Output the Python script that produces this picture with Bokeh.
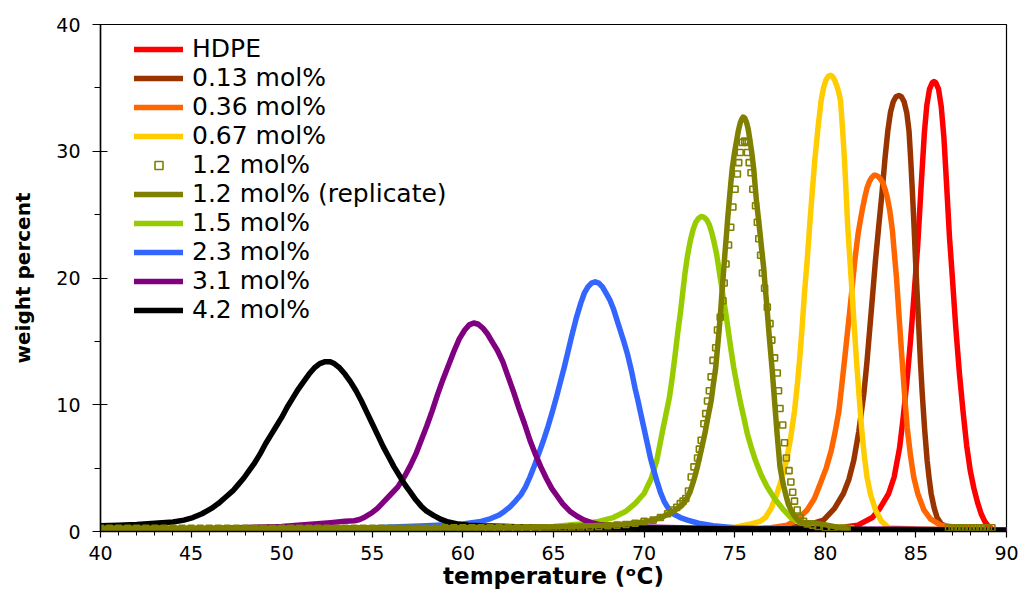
from bokeh.plotting import figure
from bokeh.models import Range1d, SingleIntervalTicker, Legend, LegendItem
from bokeh.embed import file_html
from bokeh.resources import INLINE

# ---------------- data ----------------
hdpe_t = [40, 60, 75, 80, 81.8, 82.6, 83.0, 83.5, 83.8, 84.1, 84.3, 84.5, 84.7, 84.9, 85.1, 85.3, 85.47,
          85.6, 85.75, 85.9, 86.0, 86.1, 86.25, 86.4, 86.55, 86.7, 86.85, 87.0, 87.2, 87.4, 87.6, 87.8,
          88.0, 88.2, 88.4, 88.6, 88.8, 89.0, 89.2]
hdpe_y = [0.0, 0.05, 0.1, 0.15, 0.5, 1.1, 1.8, 3.0, 4.3, 6.6, 9.0, 11.8, 15.0, 18.7, 22.6, 27.5, 31.5,
          33.6, 34.9, 35.4, 35.5, 35.4, 34.9, 33.5, 31.0, 27.2, 23.3, 20.3, 16.1, 12.5, 9.5, 6.8,
          4.8, 3.4, 2.3, 1.4, 0.8, 0.4, 0.2]

m013_t = [40, 60, 75, 78.0, 79.0, 79.9, 80.5, 81.0, 81.3, 81.57, 81.85, 82.13, 82.3, 82.46, 82.62, 82.77,
          82.95, 83.13, 83.3, 83.45, 83.6, 83.75, 83.9, 84.06, 84.2, 84.35, 84.5, 84.62, 84.72, 84.8,
          84.9, 84.98, 85.07, 85.16, 85.25, 85.35, 85.48, 85.62, 85.73, 85.84, 86.0, 86.17, 86.4, 86.7,
          88, 90]
m013_y = [0.0, 0.05, 0.1, 0.3, 0.5, 0.9, 1.8, 3.0, 4.1, 5.6, 7.9, 10.9, 13.4, 16.1, 18.8, 21.4,
          24.1, 26.7, 29.5, 31.6, 33.1, 33.9, 34.3, 34.4, 34.3, 33.9, 33.0, 31.6, 29.2, 27.0,
          24.0, 21.4, 18.7, 16.1, 13.4, 10.9, 8.1, 5.6, 4.2, 3.0, 1.9, 1.1, 0.6, 0.4,
          0.2, 0.1]

m036_t = [40, 60, 72, 76, 77.0, 77.9, 78.5, 79.0, 79.4, 79.73, 80.05, 80.33, 80.55, 80.75, 80.9, 81.06,
          81.2, 81.35, 81.5, 81.63, 81.82, 82.03, 82.17, 82.3, 82.43, 82.55, 82.68, 82.8, 82.93, 83.05,
          83.18, 83.3, 83.43, 83.56, 83.7, 83.82, 83.93, 84.08, 84.24, 84.38, 84.52, 84.7, 84.88, 85.1,
          85.44, 85.8, 86.36, 88, 90]
m036_y = [0.0, 0.05, 0.1, 0.2, 0.3, 0.5, 1.0, 1.7, 2.6, 3.8, 5.0, 6.4, 7.9, 9.5, 11.4, 13.5,
          15.4, 17.4, 19.5, 21.4, 23.6, 25.3, 26.3, 27.1, 27.6, 27.9, 28.1, 28.1, 28.0, 27.8,
          27.5, 27.0, 26.3, 25.3, 23.8, 21.8, 20.0, 16.8, 13.5, 10.7, 8.2, 6.0, 4.3, 3.0,
          1.7, 1.0, 0.5, 0.2, 0.1]

m067_t = [40, 60, 72, 74.9, 75.9, 76.4, 76.7, 77.0, 77.34, 77.6, 77.86, 78.1, 78.3, 78.45, 78.58, 78.72,
          78.85, 79.0, 79.13, 79.28, 79.42, 79.6, 79.77, 79.9, 80.03, 80.16, 80.29, 80.4, 80.52, 80.65,
          80.75, 80.84, 80.95, 81.06, 81.15, 81.24, 81.36, 81.48, 81.6, 81.72, 81.86, 82.0, 82.15, 82.3,
          82.5, 82.77, 83.1, 83.5, 85, 90]
m067_y = [0.0, 0.05, 0.1, 0.3, 0.6, 0.8, 1.1, 1.8, 3.0, 4.2, 5.6, 7.5, 9.5, 11.5, 13.5, 16.1,
          18.8, 21.4, 24.0, 26.8, 29.3, 31.9, 34.0, 35.0, 35.6, 35.9, 36.0, 35.9, 35.6, 35.1,
          34.6, 34.0, 31.8, 29.3, 26.7, 24.0, 21.4, 18.8, 16.1, 13.5, 10.8, 8.2, 6.0, 4.3,
          2.9, 1.7, 0.8, 0.3, 0.2, 0.1]

# 1.2 mol% (open square markers)
m12_t = [40, 40.5, 41, 41.5, 42, 42.5, 43, 43.5, 44, 44.5, 45, 45.5, 46, 46.5, 47, 47.5, 48, 48.5, 49, 49.5,
         50, 50.5, 51, 51.5, 52, 52.5, 53, 53.5, 54, 54.5, 55, 55.5, 56, 56.5, 57, 57.5, 58, 58.5, 59, 59.5,
         60, 60.5, 61, 61.5, 62, 62.5, 63, 63.5, 64, 64.5, 65, 65.5, 66, 66.5, 67, 67.5, 68, 68.5, 69, 69.5,
         70, 70.5, 70.9, 71.3, 71.6, 71.8, 72.0, 72.15, 72.3, 72.45, 72.6, 72.75, 72.95, 73.05, 73.15, 73.3,
         73.4, 73.5, 73.6, 73.7, 73.8, 73.95, 74.05, 74.2, 74.35, 74.42, 74.52, 74.66, 74.78, 74.9, 75.02,
         75.15, 75.22, 75.3, 75.42, 75.55, 75.65, 75.7, 75.8, 75.9, 76.0, 76.15, 76.25, 76.33, 76.43, 76.53,
         76.65, 76.8, 76.95, 77.05, 77.2, 77.35, 77.42, 77.5, 77.65, 77.75, 77.85, 78.0, 78.1, 78.2, 78.3,
         78.45, 78.6, 78.8, 79.0, 79.3, 79.6, 80.0, 80.4, 80.8, 81.2,
         86.8, 87.0, 87.2, 87.4, 87.6, 87.8, 88.0, 88.2, 88.4, 88.6, 88.8, 89.0, 89.2]
m12_y = [0.25, 0.25, 0.25, 0.25, 0.25, 0.25, 0.25, 0.25, 0.25, 0.25, 0.25, 0.25, 0.25, 0.25, 0.25, 0.25,
         0.25, 0.25, 0.25, 0.25, 0.25, 0.25, 0.25, 0.25, 0.25, 0.25, 0.25, 0.25, 0.25, 0.25, 0.25, 0.25,
         0.25, 0.25, 0.25, 0.25, 0.25, 0.25, 0.3, 0.3, 0.3, 0.3, 0.3, 0.3, 0.3, 0.3, 0.3, 0.3, 0.3, 0.3,
         0.3, 0.3, 0.35, 0.35, 0.35, 0.4, 0.45, 0.5, 0.55, 0.65, 0.8, 0.9, 1.1, 1.4, 1.7, 1.9, 2.2, 2.4,
         2.6, 3.2, 4.3, 5.1, 5.8, 6.5, 7.2, 8.5, 9.3, 10.3, 11.1, 12.2, 13.5, 14.5, 15.9, 16.9, 18.2,
         19.6, 21.1, 22.6, 24.0, 25.6, 27.0, 28.2, 29.1, 29.9, 30.7, 30.8, 30.7, 29.9, 29.1, 28.3, 27.0,
         25.7, 24.4, 23.1, 21.8, 20.4, 19.2, 17.7, 16.4, 15.1, 13.7, 12.5, 11.1, 9.7, 8.4, 7.0, 5.8,
         4.8, 3.9, 3.1, 2.4, 1.7, 1.1, 0.8, 0.6, 0.5, 0.4, 0.3, 0.3, 0.25, 0.25,
         0.3, 0.3, 0.3, 0.3, 0.3, 0.3, 0.3, 0.3, 0.3, 0.3, 0.3, 0.3, 0.3]

# 1.2 mol% (replicate), solid line
m12r_t = [40, 50, 60, 65, 68, 69, 70, 70.5, 71.0, 71.5, 72.0, 72.2, 72.4, 72.55, 72.7, 72.83, 72.95, 73.15,
          73.35, 73.52, 73.7, 73.82, 73.95, 74.07, 74.2, 74.3, 74.4, 74.47, 74.55, 74.62, 74.7, 74.78,
          74.87, 74.98, 75.1, 75.2, 75.3, 75.38, 75.47, 75.56, 75.65, 75.75, 75.85, 75.95, 76.05, 76.12,
          76.2, 76.3, 76.4, 76.5, 76.6, 76.67, 76.75, 76.9, 77.06, 77.13, 77.2, 77.27, 77.34, 77.42,
          77.5, 77.6, 77.7, 77.82, 77.95, 78.1, 78.26, 78.45, 78.6, 78.9, 79.3, 79.7, 80.1, 80.6, 81.2]
m12r_y = [0.25, 0.25, 0.3, 0.35, 0.5, 0.6, 0.75, 0.9, 1.15, 1.5, 1.95, 2.25, 2.7, 3.2, 3.85, 4.5, 5.15, 6.4,
          7.7, 9.0, 10.3, 11.6, 12.9, 14.8, 16.9, 18.9, 20.8, 22.1, 23.5, 24.8, 26.1, 27.4,
          28.7, 29.8, 30.8, 31.6, 32.2, 32.5, 32.7, 32.6, 32.3, 31.7, 30.8, 29.8, 28.6, 27.4,
          26.1, 24.8, 23.5, 22.1, 20.8, 19.5, 18.2, 15.5, 12.9, 11.6, 10.3, 9.0, 7.7, 6.4,
          5.1, 4.3, 3.6, 2.9, 2.2, 1.7, 1.3, 0.95, 0.75, 0.65, 0.7, 0.6, 0.5, 0.35, 0.2]

m15_t = [40, 55, 62, 65, 66.5, 67.5, 68.3, 69.0, 69.5, 70.0, 70.4, 70.7, 71.0, 71.2, 71.4, 71.55, 71.7,
         71.85, 72.0, 72.12, 72.25, 72.4, 72.56, 72.7, 72.85, 73.0, 73.15, 73.3, 73.45, 73.6, 73.73,
         73.85, 74.0, 74.12, 74.26, 74.4, 74.54, 74.67, 74.8, 74.95, 75.12, 75.3, 75.5, 75.7, 75.92,
         76.15, 76.45, 76.8, 77.2, 77.7, 78.1, 78.6, 79.3, 80, 81.5]
m15_y = [0.05, 0.15, 0.3, 0.4, 0.6, 0.8, 1.1, 1.6, 2.2, 3.0, 4.2, 5.6, 7.8, 9.2, 10.6, 12.1, 13.8,
         15.6, 17.2, 18.7, 20.3, 21.8, 23.0, 23.8, 24.4, 24.7, 24.85, 24.8, 24.6, 24.2, 23.6,
         22.9, 21.9, 20.8, 19.5, 18.2, 16.9, 15.6, 14.3, 12.9, 11.6, 10.3, 9.0, 7.7, 6.6,
         5.6, 4.5, 3.5, 2.6, 1.7, 1.1, 0.7, 0.5, 0.4, 0.3]

m23_t = [40, 50, 55, 58, 60, 61.0, 61.5, 62.0, 62.3, 62.6, 62.9, 63.2, 63.45, 63.7, 63.95, 64.2, 64.45,
         64.7, 64.95, 65.2, 65.4, 65.6, 65.8, 66.0, 66.25, 66.5, 66.7, 66.9, 67.1, 67.3, 67.5, 67.7,
         67.9, 68.1, 68.3, 68.5, 68.7, 68.9, 69.1, 69.3, 69.5, 69.65, 69.8, 70.0, 70.2, 70.35, 70.5,
         70.7, 70.9, 71.1, 71.3, 71.6, 72.0, 72.4, 73.0, 73.8, 75, 78, 80, 82, 85, 90]
m23_y = [0.1, 0.2, 0.3, 0.45, 0.6, 0.8, 1.0, 1.3, 1.6, 1.95, 2.4, 2.9, 3.5, 4.3, 5.2, 6.2, 7.2,
         8.3, 9.5, 10.8, 11.9, 13.0, 14.2, 15.4, 16.8, 18.0, 18.8, 19.3, 19.6, 19.7, 19.6, 19.3,
         18.8, 18.3, 17.6, 16.7, 15.8, 14.9, 13.9, 12.7, 11.3, 10.4, 9.4, 8.1, 6.8, 5.8, 5.0,
         4.0, 3.1, 2.4, 1.9, 1.4, 1.1, 0.9, 0.65, 0.45, 0.3, 0.2, 0.0, 0.05, 0.05, 0.05]

m31_t = [40, 45, 50, 52.7, 53.5, 54.0, 54.3, 54.6, 55.0, 55.3, 55.6, 56.0, 56.4, 56.8, 57.1, 57.4, 57.7,
         58.0, 58.3, 58.6, 58.9, 59.2, 59.5, 59.8, 60.1, 60.35, 60.6, 60.85, 61.1, 61.35, 61.6, 61.9,
         62.2, 62.5, 62.8, 63.1, 63.4, 63.7, 64.0, 64.3, 64.6, 64.9, 65.2, 65.5, 65.9, 66.3, 66.7,
         67.1, 67.5, 68.5, 72, 75, 80, 84, 90]
m31_y = [0.1, 0.2, 0.4, 0.7, 0.8, 0.85, 0.95, 1.15, 1.5, 1.85, 2.3, 2.9, 3.5, 4.4, 5.2, 6.1, 7.2,
         8.3, 9.5, 10.8, 12.0, 13.1, 14.2, 15.2, 15.9, 16.3, 16.45, 16.35, 16.05, 15.6, 15.0, 14.3,
         13.4, 12.2, 11.0, 9.7, 8.5, 7.2, 6.1, 5.1, 4.2, 3.4, 2.8, 2.2, 1.6, 1.2, 0.9,
         0.7, 0.55, 0.4, 0.3, 0.2, 0.15, 0.2, 0.1]

m42_t = [40, 41, 42, 43, 44.0, 44.6, 45.1, 45.6, 46.1, 46.5, 46.9, 47.3, 47.6, 47.9, 48.2, 48.5, 48.8,
         49.1, 49.4, 49.7, 50.0, 50.3, 50.6, 50.9, 51.2, 51.5, 51.8, 52.1, 52.4, 52.65, 52.9, 53.2,
         53.5, 53.8, 54.1, 54.4, 54.7, 55.0, 55.3, 55.6, 55.9, 56.2, 56.5, 56.8, 57.1, 57.4, 57.7,
         58.0, 58.4, 58.8, 59.2, 59.7, 60.3, 61, 65, 70, 75, 80, 82, 85, 90]
m42_y = [0.45, 0.5, 0.55, 0.65, 0.75, 0.9, 1.1, 1.4, 1.8, 2.2, 2.7, 3.2, 3.7, 4.2, 4.8, 5.4, 6.1,
         6.9, 7.6, 8.3, 9.0, 9.8, 10.5, 11.2, 11.8, 12.4, 12.9, 13.25, 13.4, 13.4, 13.25, 12.9,
         12.4, 11.8, 11.1, 10.3, 9.4, 8.5, 7.6, 6.7, 5.9, 5.1, 4.4, 3.7, 3.1, 2.5, 2.0,
         1.6, 1.25, 0.95, 0.75, 0.6, 0.5, 0.45, 0.3, 0.25, 0.2, 0.2, 0.15, 0.1, 0.1]

labels = ["HDPE", "0.13 mol%", "0.36 mol%", "0.67 mol%", "1.2 mol%", "1.2 mol% (replicate)",
          "1.5 mol%", "2.3 mol%", "3.1 mol%", "4.2 mol%"]
colors = ["#FF0000", "#993300", "#FF6600", "#FFCC00", "#808000", "#808000",
          "#99CC00", "#3366FF", "#800080", "#000000"]
x_ticks_interval = 5
y_ticks_interval = 10

# ---------------- figure ----------------
p = figure(frame_width=906, frame_height=507,
           x_range=Range1d(40, 90), y_range=Range1d(0, 40),
           output_backend="svg", toolbar_location=None,
           min_border_left=100, min_border_right=13, min_border_top=24, min_border_bottom=61,
           background_fill_color="white", border_fill_color="white")
p.xgrid.visible = False
p.ygrid.visible = False
p.outline_line_color = "black"
p.outline_line_width = 1.2

LW = 5.5
kw = dict(line_width=LW, line_join="round", line_cap="round")
r_hdpe = p.line(hdpe_t, hdpe_y, color=colors[0], **kw)
r_013 = p.line(m013_t, m013_y, color=colors[1], **kw)
r_036 = p.line(m036_t, m036_y, color=colors[2], **kw)
r_067 = p.line(m067_t, m067_y, color=colors[3], **kw)
r_15 = p.line(m15_t, m15_y, color=colors[6], **kw)
r_23 = p.line(m23_t, m23_y, color=colors[7], **kw)
r_31 = p.line(m31_t, m31_y, color=colors[8], **kw)
r_42 = p.line(m42_t, m42_y, color=colors[9], **kw)
r_12r = p.line(m12r_t, m12r_y, color=colors[5], **kw)
r_12 = p.scatter(m12_t, m12_y, marker="square", size=6, fill_alpha=0,
                 line_color=colors[4], line_width=1.6)

rends = [r_hdpe, r_013, r_036, r_067, r_12, r_12r, r_15, r_23, r_31, r_42]
legend = Legend(items=[LegendItem(label=l, renderers=[r]) for l, r in zip(labels, rends)],
                location=(34, 207), padding=0, margin=0, spacing=0,
                glyph_width=49, glyph_height=20, label_standoff=9, label_height=20,
                label_text_font="DejaVu Sans", label_text_font_size="25px",
                label_text_color="black",
                border_line_color=None, background_fill_alpha=0)
p.add_layout(legend, "center")

# axes
p.xaxis.ticker = SingleIntervalTicker(interval=x_ticks_interval, num_minor_ticks=5)
p.yaxis.ticker = SingleIntervalTicker(interval=y_ticks_interval, num_minor_ticks=2)
for ax in (p.xaxis[0], p.yaxis[0]):
    ax.axis_line_color = "black"
    ax.axis_line_width = 1.5
    ax.major_tick_line_color = "black"
    ax.minor_tick_line_color = "black"
    ax.major_tick_line_width = 1.2
    ax.minor_tick_line_width = 1
    ax.major_label_text_font = "DejaVu Sans"
    ax.major_label_text_font_size = "19px"
    ax.major_label_text_color = "black"
    ax.axis_label_text_font = "DejaVu Sans"
    ax.axis_label_text_font_style = "bold"
    ax.axis_label_text_color = "black"

p.xaxis.major_tick_in = 0
p.xaxis.major_tick_out = 6
p.xaxis.minor_tick_in = 0
p.xaxis.minor_tick_out = 4
p.xaxis.major_label_standoff = 8
p.xaxis.axis_label = "temperature (\u1d52C)"
p.xaxis.axis_label_text_font_size = "23px"
p.xaxis.axis_label_standoff = 0

p.yaxis.major_tick_in = 7
p.yaxis.major_tick_out = 8
p.yaxis.minor_tick_in = 0
p.yaxis.minor_tick_out = 6
p.yaxis.major_label_standoff = 12
p.yaxis.axis_label = "weight percent"
p.yaxis.axis_label_text_font_size = "20px"
p.yaxis.axis_label_standoff = 18

open("out.html", "w").write(file_html(p, INLINE))
